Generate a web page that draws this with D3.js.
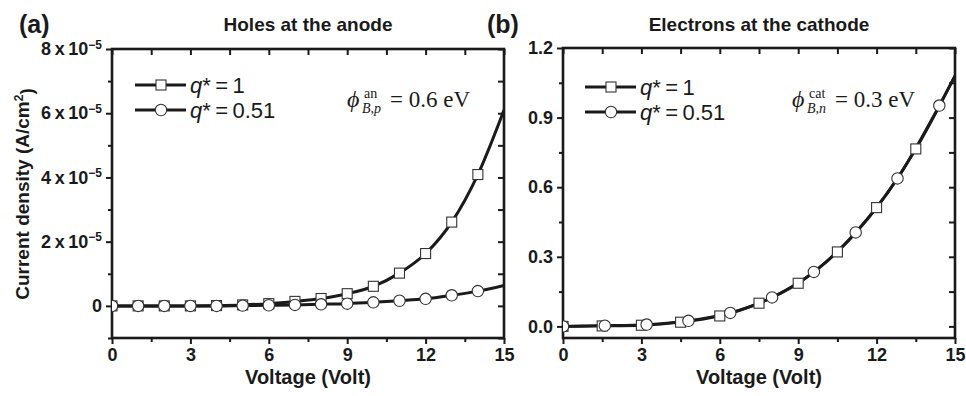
<!DOCTYPE html>
<html>
<head>
<meta charset="utf-8">
<script src="https://cdn.jsdelivr.net/npm/d3@7"></script>
<style>
  body { margin: 0; background: #fff; }
  text { fill: #1a1a1a; }
</style>
</head>
<body>
<script>
// ---- data ----
// (a) holes at the anode, J in A/cm^2
var holesV = [0, 1, 2, 3, 4, 5, 6, 7, 8, 9, 10, 11, 12, 13, 14];
var holesQ1 = [0, 0, 0, 0, 0.01e-5, 0.03e-5, 0.07e-5, 0.14e-5, 0.23e-5, 0.38e-5, 0.61e-5, 1.02e-5, 1.63e-5, 2.61e-5, 4.09e-5];
var holesQ051 = [0, 0, 0, 0, 0, 0.01e-5, 0.02e-5, 0.03e-5, 0.05e-5, 0.07e-5, 0.11e-5, 0.16e-5, 0.22e-5, 0.33e-5, 0.46e-5];
var holesEnd = {q1: 6.1e-5, q051: 0.64e-5};   // curve values at 15 V

// (b) electrons at the cathode
var elecVQ1 = [0, 1.5, 3, 4.5, 6, 7.5, 9, 10.5, 12, 13.5];
var elecQ1 = [0, 0.002, 0.005, 0.018, 0.045, 0.100, 0.186, 0.321, 0.512, 0.765];
var elecVQ051 = [0, 1.6, 3.2, 4.8, 6.4, 8.0, 9.6, 11.2, 12.8, 14.4];
var elecQ051 = [0, 0.003, 0.008, 0.024, 0.058, 0.125, 0.235, 0.405, 0.638, 0.952];
var elecEnd = {q1: 1.08, q051: 1.08};

var xMajor = [0, 3, 6, 9, 12, 15];
var xMinor = [1.5, 4.5, 7.5, 10.5, 13.5];
var holesYMajor = [0, 2e-5, 4e-5, 6e-5, 8e-5];
var holesYMinor = [-1e-5, 1e-5, 3e-5, 5e-5, 7e-5];
var elecYMajor = [0, 0.3, 0.6, 0.9, 1.2];
var elecYMinor = [0.15, 0.45, 0.75, 1.05];

var SANS = "'Liberation Sans', Arial, sans-serif";
var SERIF = "'Liberation Serif', 'Times New Roman', serif";

var svg = d3.select("body").append("svg")
    .attr("width", 966)
    .attr("height", 396)
    .attr("font-family", SANS);

function panel(o) {
  var w = o.w, h = o.h;
  var g = svg.append("g").attr("transform", "translate(" + o.left + "," + o.top + ")");
  var x = d3.scaleLinear().domain([0, 15]).range([0, w]);
  var y = d3.scaleLinear().domain(o.yDomain).range([h, 0]);

  g.append("clipPath").attr("id", o.id + "clip")
    .append("rect").attr("width", w).attr("height", h);

  // ticks
  function style(sel) {
    sel.select(".domain").remove();
    sel.selectAll(".tick line").attr("stroke", "#1a1a1a").attr("stroke-width", 2);
    sel.selectAll(".tick text").attr("font-size", "18px").attr("font-weight", "bold")
      .attr("font-family", SANS).attr("fill", "#1a1a1a");
  }
  g.append("g").attr("transform", "translate(0," + h + ")")
    .call(d3.axisBottom(x).tickValues(xMajor).tickSize(6).tickPadding(4).tickFormat(d3.format("d"))).call(style);
  g.append("g").attr("transform", "translate(0," + h + ")")
    .call(d3.axisBottom(x).tickValues(xMinor).tickSize(4).tickFormat("")).call(style);
  g.append("g")
    .call(d3.axisTop(x).tickValues(xMajor.concat(xMinor)).tickSize(-6).tickFormat("")).call(style);
  var ya = g.append("g")
    .call(d3.axisLeft(y).tickValues(o.yMajor).tickSize(6).tickPadding(4).tickFormat(o.yFormat)).call(style);
  g.append("g")
    .call(d3.axisLeft(y).tickValues(o.yMinor).tickSize(4).tickFormat("")).call(style);
  g.append("g").attr("transform", "translate(" + w + ",0)")
    .call(d3.axisRight(y).tickValues(o.yMajor.concat(o.yMinor)).tickSize(-6).tickFormat("")).call(style);
  if (o.yPost) o.yPost(ya);

  // frame
  g.append("rect").attr("width", w).attr("height", h)
    .attr("fill", "none").attr("stroke", "#1a1a1a").attr("stroke-width", 2.6);

  var plot = g.append("g").attr("clip-path", "url(#" + o.id + "clip)");
  var line = d3.line().x(function(d) { return x(d[0]); }).y(function(d) { return y(d[1]); })
    .curve(d3.curveMonotoneX);

  o.series.forEach(function(s) {
    var pts = s.v.map(function(v, i) { return [v, s.j[i]]; });
    plot.append("path").datum(pts.concat([[15, s.end]]))
      .attr("d", line).attr("fill", "none")
      .attr("stroke", "#1a1a1a").attr("stroke-width", o.lw);
  });
  o.series.forEach(function(s) {
    var pts = s.v.map(function(v, i) { return [v, s.j[i]]; });
    drawMarkers(plot, pts, s.shape, x, y, o.ms);
  });

  // legend
  var lg = g.append("g").attr("transform", "translate(" + o.legX + "," + o.legY + ")");
  o.series.forEach(function(s, i) {
    var row = lg.append("g").attr("transform", "translate(0," + (i * 25) + ")");
    row.append("line").attr("x1", 0).attr("x2", 51)
      .attr("stroke", "#1a1a1a").attr("stroke-width", o.lw);
    drawMarkers(row, [[0, 0]], s.shape, function() { return 26; }, function() { return 0; }, o.ms);
    var t = row.append("text").attr("x", 55).attr("y", 7.5).attr("font-size", "22px");
    t.append("tspan").attr("font-style", "italic").text("q");
    t.append("tspan").text("*\u2009=\u2009" + s.label);
  });

  // barrier annotation
  var a = g.append("g").attr("transform", "translate(" + o.annX + "," + o.annY + ")")
    .attr("font-family", SERIF);
  a.append("text").attr("font-size", "24px").attr("font-style", "italic").text("\u03d5");
  a.append("text").attr("x", 17).attr("y", -9).attr("font-size", "14px").text(o.annSup);
  a.append("text").attr("x", 15).attr("y", 6).attr("font-size", "14px").attr("font-style", "italic").text(o.annSub);
  a.append("text").attr("x", o.annEqX).attr("font-size", "23px").text("= " + o.annVal);

  // titles
  svg.append("text").attr("x", o.tagX).attr("y", 33)
    .attr("font-size", "25px").attr("font-weight", "bold").text(o.tag);
  svg.append("text").attr("x", o.left + w / 2 + o.titleDx).attr("y", 31)
    .attr("text-anchor", "middle").attr("font-size", "19px").attr("font-weight", "bold").text(o.title);
  svg.append("text").attr("x", o.left + w / 2).attr("y", 384)
    .attr("text-anchor", "middle").attr("font-size", "20px").attr("font-weight", "bold").text("Voltage (Volt)");

  return {x: x, y: y, g: g};
}

function drawMarkers(sel, pts, shape, x, y, ms) {
  if (shape === "square") {
    sel.selectAll(null).data(pts).join("rect")
      .attr("x", function(d) { return x(d[0]) - ms / 2; })
      .attr("y", function(d) { return y(d[1]) - ms / 2; })
      .attr("width", ms).attr("height", ms)
      .attr("fill", "#fff").attr("stroke", "#333").attr("stroke-width", 1.1);
  } else {
    sel.selectAll(null).data(pts).join("circle")
      .attr("cx", function(d) { return x(d[0]); })
      .attr("cy", function(d) { return y(d[1]); })
      .attr("r", ms / 2 + 0.7)
      .attr("fill", "#fff").attr("stroke", "#333").attr("stroke-width", 1.1);
  }
}

// (a)
panel({
  id: "a", left: 112, top: 49, w: 392, h: 289,
  yDomain: [-1e-5, 8e-5], yMajor: holesYMajor, yMinor: holesYMinor,
  yFormat: function() { return ""; },
  yPost: function(ax) {
    ax.selectAll(".tick text").each(function(d) {
      var t = d3.select(this);
      if (Math.abs(d) < 1e-12) { t.text("0"); return; }
      t.append("tspan").text(Math.round(d / 1e-5) + "\u2009x\u200910");
      t.append("tspan").attr("dy", "-0.55em").attr("font-size", "12px").text("\u22125");
    });
  },
  series: [
    {v: holesV, j: holesQ1, end: holesEnd.q1, shape: "square", label: "1"},
    {v: holesV, j: holesQ051, end: holesEnd.q051, shape: "circle", label: "0.51"}
  ],
  lw: 3, ms: 10,
  legX: 23, legY: 36,
  annX: 235, annY: 58, annEqX: 43, annSup: "an", annSub: "B,p", annVal: "0.6 eV",
  tag: "(a)", tagX: 19, title: "Holes at the anode", titleDx: 0
});

// (b)
panel({
  id: "b", left: 563, top: 48, w: 392, h: 290,
  yDomain: [-0.05, 1.2], yMajor: elecYMajor, yMinor: elecYMinor,
  yFormat: d3.format(".1f"),
  series: [
    {v: elecVQ1, j: elecQ1, end: elecEnd.q1, shape: "square", label: "1"},
    {v: elecVQ051, j: elecQ051, end: elecEnd.q051, shape: "circle", label: "0.51"}
  ],
  lw: 2.8, ms: 10,
  legX: 22, legY: 39,
  annX: 229, annY: 59, annEqX: 43, annSup: "cat", annSub: "B,n", annVal: "0.3 eV",
  tag: "(b)", tagX: 487, title: "Electrons at the cathode", titleDx: 0
});

// y title, panel (a) only
svg.append("text")
  .attr("transform", "translate(29,194) rotate(-90)")
  .attr("text-anchor", "middle").attr("font-size", "19px").attr("font-weight", "bold")
  .call(function(t) {
    t.append("tspan").text("Current density (A/cm");
    t.append("tspan").attr("dy", "-0.5em").attr("font-size", "12px").text("2");
    t.append("tspan").attr("dy", "0.5em").text(")");
  });
</script>
</body>
</html>
